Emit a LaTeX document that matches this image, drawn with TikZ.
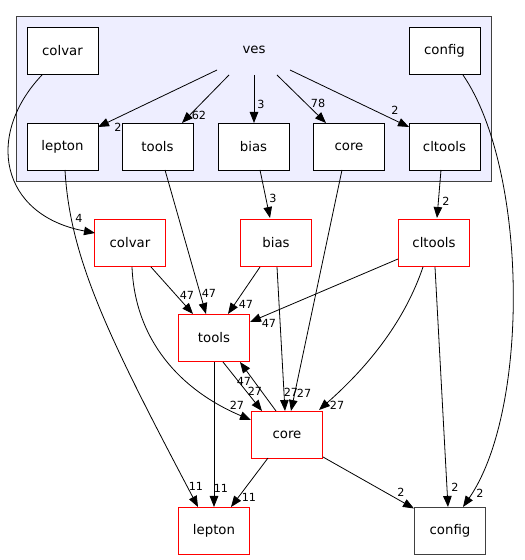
\documentclass[tikz,border=0pt]{standalone}
\usepackage{fontspec}
\setmainfont{DejaVu Sans}
\usetikzlibrary{arrows.meta}
\definecolor{clfill}{HTML}{EEEEFF}
\definecolor{dgray}{HTML}{404040}
\tikzset{
  box/.style={draw=black, fill=white, line width=0.9pt, minimum width=71pt, minimum height=47pt, inner sep=0pt, font=\fontsize{13.3}{16}\selectfont},
  redbox/.style={box, draw=red},
  graybox/.style={box, draw=dgray},
  edge/.style={line width=0.8pt, -{Triangle[length=11pt,width=8.5pt]}},
  lbl/.style={font=\fontsize{11.2}{13}\selectfont, inner sep=0pt}
}
\begin{document}
\begin{tikzpicture}[x=1pt,y=1pt]
\useasboundingbox (0,0) rectangle (525,560);
% cluster
\node[draw=dgray, fill=clfill, line width=0.9pt, minimum width=475pt, minimum height=165pt, inner sep=0pt] (cluster) at (253.5,461.5) {};
\node[font=\fontsize{13.3}{16}\selectfont, inner sep=0pt] (ves) at (254,510) {ves};
% inner nodes
\node[box] (ci) at (62.5,509.5) {colvar};
\node[box] (gi) at (444.5,509.5) {config};
\node[box] (li) at (62.5,413.5) {lepton};
\node[box] (ti) at (157.5,413.5) {tools};
\node[box] (bi) at (253.5,413.5) {bias};
\node[box] (coi) at (349,413.5) {core};
\node[box] (cli) at (444.5,413.5) {cltools};
% outer nodes
\node[redbox] (co) at (130,317.5) {colvar};
\node[redbox] (bo) at (276,317.5) {bias};
\node[redbox] (clo) at (434,317.5) {cltools};
\node[redbox] (to) at (214,222) {tools};
\node[redbox] (ko) at (287,125.5) {core};
\node[redbox] (lo) at (214,29.5) {lepton};
\node[graybox] (go) at (450,29.5) {config};
% ves edges
\draw[edge] ([shift={(-37,-20)}]ves.center) -- ([shift={(35.5,19.5)}]li.center);
\node[lbl] at (118,433) {2};
\draw[edge] ([shift={(-25,-25)}]ves.center) -- ([shift={(24.5,23.5)}]ti.center);
\node[lbl] at (199,445) {62};
\draw[edge] ([shift={(0,-25)}]ves.center) -- ([shift={(0.5,23.5)}]bi.center);
\node[lbl] at (261,456) {3};
\draw[edge] ([shift={(23,-25)}]ves.center) -- ([shift={(-23,23.5)}]coi.center);
\node[lbl] at (318,457) {78};
\draw[edge] ([shift={(36,-20)}]ves.center) -- ([shift={(-35.5,19.5)}]cli.center);
\node[lbl] at (395,450) {2};
% inner to outer
\draw[edge] ([shift={(-20.5,-24.5)}]ci.center) .. controls (-15,425) and (0,345) .. ([shift={(-35,9.5)}]co.center);
\node[lbl] at (79,342) {4};
\draw[edge] ([shift={(18.5,-24.5)}]gi.center) .. controls (528,390) and (530,150) .. ([shift={(13,23.5)}]go.center);
\node[lbl] at (480,67) {2};
\draw[edge] ([shift={(2.5,-23.5)}]li.center) .. controls (70,300) and (110,220) .. ([shift={(-16,23.5)}]lo.center);
\node[lbl] at (196,74) {11};
\draw[edge] ([shift={(7.5,-23.5)}]ti.center) -- ([shift={(-8,24)}]to.center);
\node[lbl] at (209,267) {47};
\draw[edge] ([shift={(6.5,-23.5)}]bi.center) -- ([shift={(-6,24.5)}]bo.center);
\node[lbl] at (273,362) {3};
\draw[edge] ([shift={(-7,-23.5)}]coi.center) -- ([shift={(4,23.5)}]ko.center);
\node[lbl] at (304,167) {27};
\draw[edge] ([shift={(-3.5,-23.5)}]cli.center) -- ([shift={(3,24.5)}]clo.center);
\node[lbl] at (446,359) {2};
% outer edges
\draw[edge] ([shift={(21,-24.5)}]co.center) -- ([shift={(-21,24)}]to.center);
\node[lbl] at (187,265) {47};
\draw[edge] ([shift={(2,-24.5)}]co.center) .. controls (135,220) and (180,170) .. ([shift={(-36,14.5)}]ko.center);
\node[lbl] at (237,155) {27};
\draw[edge] ([shift={(-16,-24.5)}]bo.center) -- ([shift={(14,24)}]to.center);
\node[lbl] at (246,256) {47};
\draw[edge] ([shift={(1,-24.5)}]bo.center) -- ([shift={(-2,23.5)}]ko.center);
\node[lbl] at (291,168) {27};
\draw[edge] ([shift={(-36,-16.5)}]clo.center) -- ([shift={(36,16)}]to.center);
\node[lbl] at (269,237) {47};
\draw[edge] ([shift={(-11,-24.5)}]clo.center) .. controls (405,240) and (370,195) .. ([shift={(32,24.5)}]ko.center);
\node[lbl] at (337,155) {27};
\draw[edge] ([shift={(1,-24.5)}]clo.center) -- ([shift={(-2,23.5)}]go.center);
\node[lbl] at (455,73) {2};
\draw[edge] ([shift={(0,-24)}]to.center) -- ([shift={(0,23.5)}]lo.center);
\node[lbl] at (221,72) {11};
\draw[edge] ([shift={(9,-24)}]to.center) -- ([shift={(-25,23.5)}]ko.center);
\node[lbl] at (255,169) {27};
\draw[edge] ([shift={(-11,23.5)}]ko.center) -- ([shift={(26,-24)}]to.center);
\node[lbl] at (244,179) {47};
\draw[edge] ([shift={(-19,-23.5)}]ko.center) -- ([shift={(17,23.5)}]lo.center);
\node[lbl] at (249,63) {11};
\draw[edge] ([shift={(36,-22.5)}]ko.center) -- ([shift={(-36,22)}]go.center);
\node[lbl] at (401,68) {2};
\end{tikzpicture}
\end{document}
